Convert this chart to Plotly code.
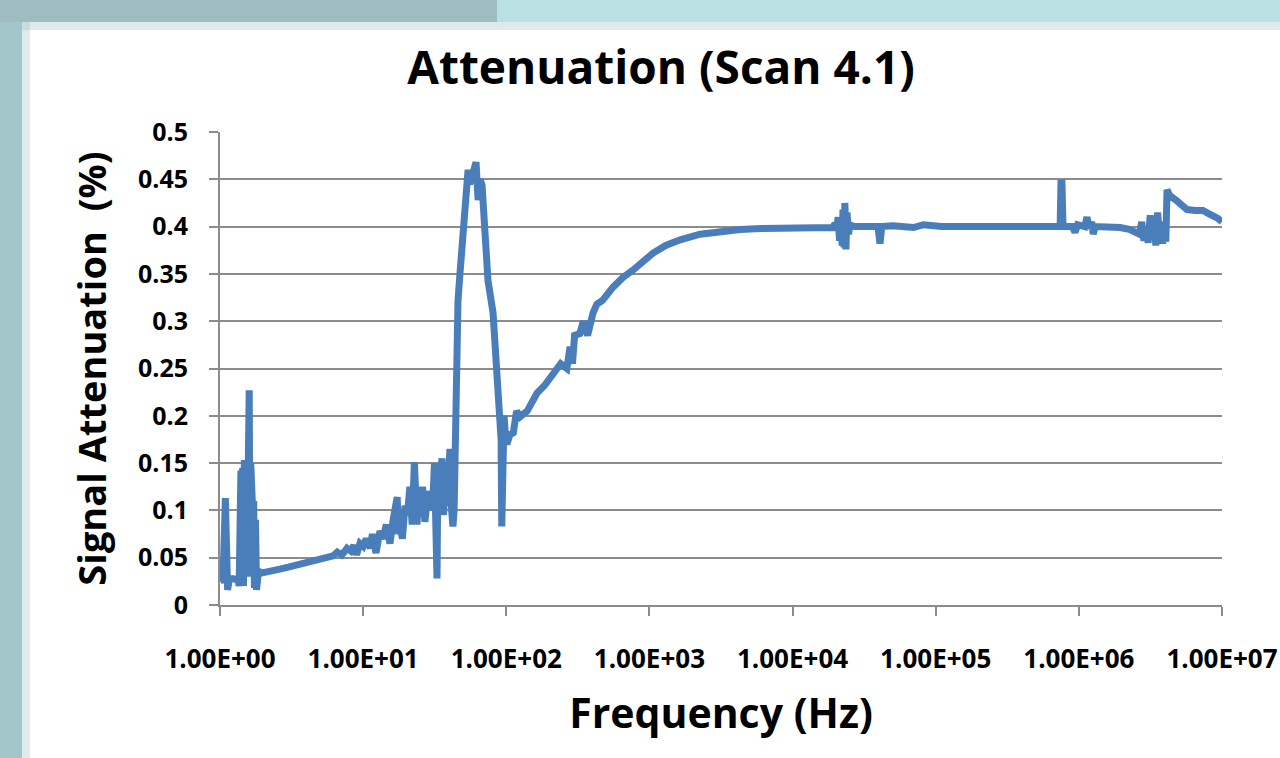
import plotly.graph_objects as go

# frequency (Hz) and attenuation
freq = [
    1.00, 1.05, 1.09, 1.11, 1.13, 1.16, 1.22, 1.30, 1.34,
    1.36, 1.38, 1.40, 1.42, 1.44, 1.46, 1.48, 1.50, 1.52, 1.54,
    1.56, 1.58, 1.60, 1.62, 1.64, 1.66, 1.68, 1.70, 1.72, 1.74,
    1.77, 1.80, 1.82, 1.84, 1.87, 1.90, 1.97,
    2.3, 2.62, 3.0, 3.62, 4.2, 5.0, 5.6, 6.17, 6.6, 7.1, 7.71, 8.2,
    8.6, 9.0, 9.5, 10.0, 10.5, 11.2, 11.6, 12.3, 13.1, 13.8, 14.5,
    15.4, 16.2, 17.3, 17.6, 18.1, 18.8, 19.6, 20.4, 21.2, 22.0,
    22.8, 23.8, 24.3, 25.0, 26.0, 27.0, 28.0, 29.3, 30.5, 31.5,
    32.5, 32.8, 33.2, 34.4, 35.6, 36.4, 37.3, 38.8, 40.4, 41.5,
    42.4, 43.2, 43.8, 44.5, 45.3, 46.0, 47.5, 49.9, 51.5, 54.1,
    55.5, 57.7, 59.5, 61.5, 63.5, 65.5, 67.7, 71.0, 74.5, 80.8,
    86.1, 90.4, 92.0, 93.0, 93.8, 94.9, 96.5, 98.0, 101, 106,
    112, 118, 125, 140, 164, 185, 212, 240, 265, 279,
    290, 300, 327, 345, 370, 404, 430, 470, 557, 650,
    768, 900, 1060, 1300, 1640, 2260, 3000, 4300, 6000, 9600,
    14000, 19000, 19800, 20300, 20800, 21300, 21800, 22200, 22500, 22900,
    23200, 23600, 24000, 24600, 25200, 27000, 30000, 39500, 40800, 42000,
    50000, 58000, 70000, 82000, 110000, 150000, 300000, 400000, 540000, 600000,
    740000, 750000, 762000, 775000, 790000, 900000, 940000, 980000, 1100000, 1140000,
    1180000, 1230000, 1260000, 1300000, 1500000, 1940000, 2250000, 2550000, 2650000, 2750000,
    2850000, 2950000, 3050000, 3150000, 3250000, 3350000, 3450000, 3550000, 3650000, 3750000,
    3850000, 3950000, 4050000, 4130000, 4300000, 4850000, 5300000, 5700000, 6500000, 7370000,
    8000000, 8650000, 9300000, 10000000,
]
attenuation = [
    0.025, 0.027, 0.113, 0.030, 0.016, 0.027, 0.028, 0.027, 0.028,
    0.020, 0.100, 0.142, 0.030, 0.145, 0.020, 0.153, 0.035, 0.150, 0.030,
    0.148, 0.040, 0.227, 0.030, 0.150, 0.035, 0.111, 0.030, 0.110, 0.018,
    0.090, 0.016, 0.035, 0.030, 0.034, 0.035, 0.034,
    0.037, 0.038, 0.040, 0.043, 0.045, 0.048, 0.050, 0.052, 0.056, 0.053, 0.060, 0.057,
    0.063, 0.053, 0.065, 0.062, 0.070, 0.060, 0.075, 0.055, 0.078, 0.070, 0.085,
    0.065, 0.090, 0.114, 0.075, 0.085, 0.070, 0.105, 0.095, 0.125, 0.085,
    0.151, 0.085, 0.120, 0.095, 0.125, 0.088, 0.110, 0.120, 0.100, 0.150,
    0.085, 0.028, 0.120, 0.140, 0.155, 0.095, 0.120, 0.105, 0.165, 0.100,
    0.083, 0.100, 0.175, 0.220, 0.262, 0.322, 0.351, 0.389, 0.421, 0.460,
    0.445, 0.456, 0.462, 0.468, 0.428, 0.450, 0.444, 0.404, 0.343, 0.309,
    0.252, 0.209, 0.175, 0.083, 0.190, 0.175, 0.200, 0.185, 0.170, 0.180,
    0.182, 0.205, 0.199, 0.205, 0.224, 0.232, 0.245, 0.255, 0.250, 0.273,
    0.255, 0.285, 0.287, 0.300, 0.285, 0.309, 0.318, 0.322, 0.336, 0.346,
    0.354, 0.363, 0.372, 0.380, 0.386, 0.392, 0.395, 0.397, 0.398, 0.399,
    0.400, 0.399, 0.403, 0.396, 0.410, 0.385, 0.405, 0.380, 0.418, 0.378,
    0.425, 0.376, 0.415, 0.392, 0.402, 0.400, 0.400, 0.400, 0.382, 0.400,
    0.401, 0.400, 0.399, 0.402, 0.400, 0.400, 0.400, 0.401, 0.400, 0.400,
    0.400, 0.446, 0.446, 0.401, 0.400, 0.400, 0.394, 0.402, 0.400, 0.410,
    0.398, 0.405, 0.392, 0.400, 0.400, 0.399, 0.397, 0.394, 0.392, 0.405,
    0.385, 0.400, 0.383, 0.412, 0.388, 0.408, 0.380, 0.415, 0.392, 0.400,
    0.382, 0.405, 0.384, 0.439, 0.433, 0.427, 0.421, 0.418, 0.417, 0.417,
    0.414, 0.412, 0.409, 0.405,
]

tick_vals = [1, 10, 100, 1000, 10000, 100000, 1000000, 10000000]
tick_text = ["1.00E+00", "1.00E+01", "1.00E+02", "1.00E+03",
             "1.00E+04", "1.00E+05", "1.00E+06", "1.00E+07"]

FONT = "Open Sans"
GRID = "#8c8c8c"

fig = go.Figure()
fig.add_trace(go.Scatter(
    x=freq, y=attenuation, mode="lines",
    line=dict(color="#4a7ebb", width=7),
    showlegend=False,
))

# pixel -> paper helpers for the slide frame (plot area 220..1222 x 132..605)
def px(x):
    return (x - 220) / 1002

def py(y):
    return (605 - y) / 473

frame = [
    # soft shadow inside the frame
    dict(x0=px(22), x1=px(30), y0=py(758), y1=py(22), fillcolor="rgba(160,196,200,0.35)"),
    dict(x0=px(22), x1=px(1280), y0=py(30), y1=py(22), fillcolor="rgba(160,196,200,0.35)"),
    # left band
    dict(x0=px(0), x1=px(22), y0=py(758), y1=py(0), fillcolor="#a3c6ca"),
    # top band, darker left part and lighter right part
    dict(x0=px(0), x1=px(497), y0=py(22), y1=py(0), fillcolor="#9fbdc0"),
    dict(x0=px(497), x1=px(1280), y0=py(22), y1=py(0), fillcolor="#b9e1e4"),
]
for s in frame:
    fig.add_shape(type="rect", xref="paper", yref="paper", line_width=0,
                  layer="below", **s)

fig.update_layout(
    width=1280, height=758,
    margin=dict(l=220, r=58, t=132, b=153),
    paper_bgcolor="white", plot_bgcolor="white",
    title=dict(text="<b>Attenuation (Scan 4.1)</b>", x=661 / 1280, xanchor="center",
               y=1 - 68 / 758, yanchor="middle",
               font=dict(family=FONT, size=46, color="black")),
    font=dict(family=FONT, color="black"),
)
fig.update_xaxes(
    type="log", range=[0, 7], automargin=False,
    tickvals=tick_vals, ticktext=tick_text,
    tickfont=dict(family=FONT, size=26, color="black", weight="bold"),
    ticks="outside", ticklen=9, tickcolor=GRID, tickwidth=2,
    ticklabelstandoff=21,
    showline=True, linecolor=GRID, linewidth=2,
    showgrid=False, zeroline=False,
    title=dict(text="<b>Frequency (Hz)</b>", standoff=24,
               font=dict(family=FONT, size=41, color="black")),
)
fig.update_yaxes(
    range=[0, 0.5], dtick=0.05, tick0=0, automargin=False,
    tickfont=dict(family=FONT, size=25, color="black", weight="bold"),
    ticks="outside", ticklen=9, tickcolor=GRID, tickwidth=2,
    ticklabelstandoff=16,
    showline=True, linecolor=GRID, linewidth=2,
    showgrid=True, gridcolor=GRID, gridwidth=2, zeroline=False,
    title=dict(text="<b>Signal Attenuation  (%)</b>", standoff=20,
               font=dict(family=FONT, size=38, color="black")),
)

fig.write_html("out.html", config={"displayModeBar": False},
               post_script="document.body.style.margin='0';")
